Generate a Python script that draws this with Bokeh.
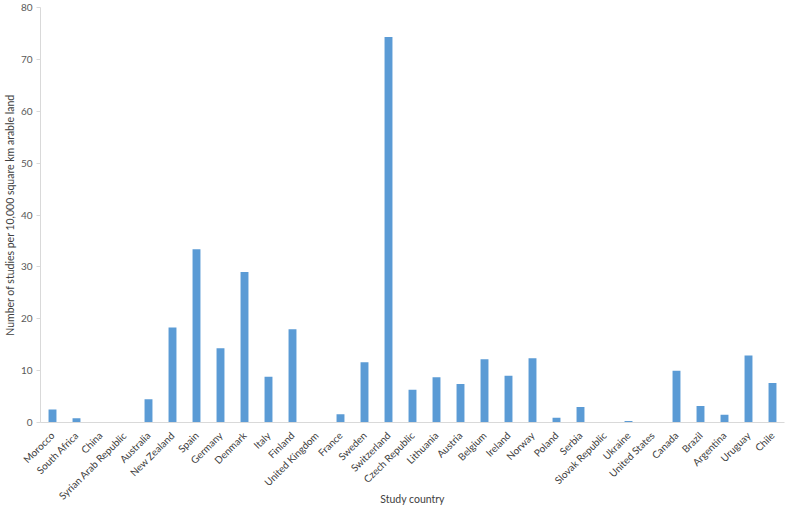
from bokeh.plotting import figure
from bokeh.models import FactorRange, Range1d, ColumnDataSource
from bokeh.embed import file_html
from bokeh.resources import INLINE
import math

countries = ["Morocco", "South Africa", "China", "Syrian Arab Republic", "Australia",
             "New Zealand", "Spain", "Germany", "Denmark", "Italy", "Finland",
             "United Kingdom", "France", "Sweden", "Switzerland", "Czech Republic",
             "Lithuania", "Austria", "Belgium", "Ireland", "Norway", "Poland", "Serbia",
             "Slovak Republic", "Ukraine", "United States", "Canada", "Brazil",
             "Argentina", "Uruguay", "Chile"]
studies = [2.5, 0.8, 0.0, 0.0, 4.5, 18.3, 33.4, 14.3, 29.0, 8.8, 18.0, 0.0, 1.6, 11.6,
           74.3, 6.3, 8.7, 7.4, 12.2, 9.0, 12.4, 0.9, 3.0, 0.0, 0.3, 0.0, 10.0, 3.2,
           1.5, 12.9, 7.6]
y_ticks = [0, 10, 20, 30, 40, 50, 60, 70, 80]

src = ColumnDataSource(data=dict(country=countries, value=studies))

p = figure(width=785, height=514, output_backend="svg", toolbar_location=None,
           x_range=FactorRange(factors=countries, range_padding=0),
           y_range=Range1d(0, 80),
           min_border_left=34, min_border_right=1, min_border_top=7, min_border_bottom=92)

p.vbar(x="country", top="value", width=0.33, source=src, fill_color="#5b9bd5",
       line_color=None)

p.outline_line_color = None
p.xgrid.grid_line_color = None
p.ygrid.grid_line_color = None

font = "Lato"
p.yaxis.ticker = y_ticks
p.yaxis.axis_line_color = "#d9d9d9"
p.yaxis.major_tick_line_color = "#d9d9d9"
p.yaxis.major_tick_out = 4
p.yaxis.major_tick_in = 0
p.yaxis.minor_tick_line_color = None
p.yaxis.major_label_standoff = 4
p.yaxis.major_label_text_font = font
p.yaxis.major_label_text_font_size = "10px"
p.yaxis.major_label_text_color = "#595959"
p.yaxis.axis_label = "Number of studies per 10,000 square km arable land"
p.yaxis.axis_label_text_font = font
p.yaxis.axis_label_text_font_size = "10.5px"
p.yaxis.axis_label_text_font_style = "normal"
p.yaxis.axis_label_text_color = "#404040"
p.yaxis.axis_label_standoff = 2

p.xaxis.axis_line_color = "#d9d9d9"
p.xaxis.major_tick_line_color = None
p.xaxis.major_label_orientation = math.pi / 4
p.xaxis.major_label_text_font = font
p.xaxis.major_label_text_font_size = "10px"
p.xaxis.major_label_text_color = "#404040"
p.xaxis.major_label_standoff = 5
p.xaxis.axis_label = "Study country"
p.xaxis.axis_label_text_font = font
p.xaxis.axis_label_text_font_size = "10.5px"
p.xaxis.axis_label_text_font_style = "normal"
p.xaxis.axis_label_text_color = "#404040"
p.xaxis.axis_label_standoff = -16

open("out.html", "w").write(file_html(p, INLINE))
